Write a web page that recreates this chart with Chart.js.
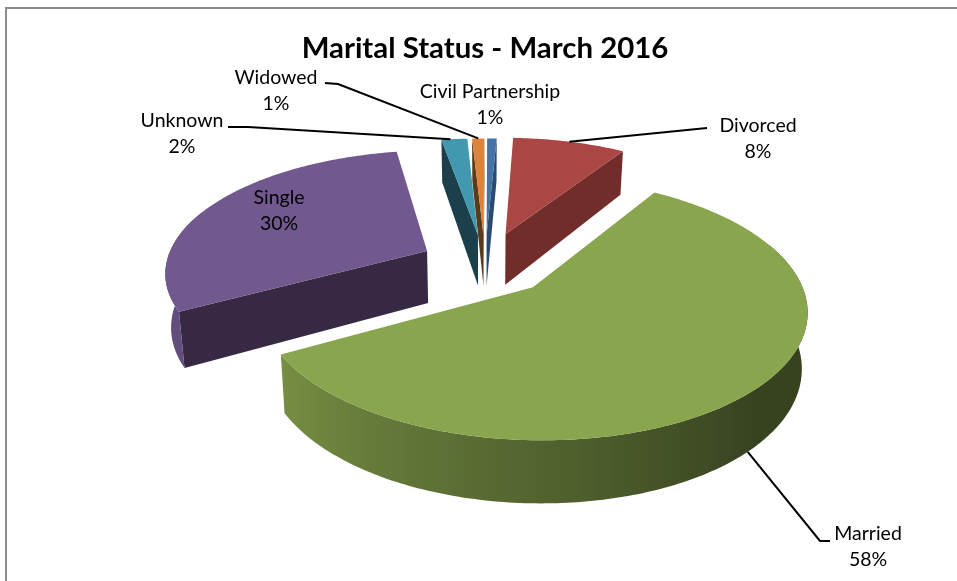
<!DOCTYPE html>
<html>
<head>
<meta charset="utf-8">
<title>Marital Status - March 2016</title>
<style>
  html, body { margin: 0; padding: 0; background: #fff; }
  canvas { display: block; }
</style>
<script src="https://cdn.jsdelivr.net/npm/chart.js@4/dist/chart.umd.min.js"></script>
</head>
<body>
<canvas id="pie" width="957" height="581"></canvas>
<script>
const categories = ["Civil Partnership", "Divorced", "Married", "Single", "Unknown", "Widowed"];
// the labels show them rounded
const shares = [0.7, 8.3, 57.9, 30.3, 1.9, 0.9];
const topColors = ["#4572A7", "#AA4643", "#89A54E", "#71588F", "#4198AF", "#DB843D"];
const wallColors = ["#2A4A72", "#722D2B", "#364219", "#372944", "#1B3F4B", "#5B3A1A"];
const explodeBy = [0.25, 0.27, 0.26, 0.25, 0.25, 0.25];

// label layout: centre of the first text line, and optional leader line
const labelLayout = {
  "Civil Partnership": { x: 490, y: 92 },
  Divorced: { x: 758, y: 126, leader: [[707, 128]], at: 0.5, z: 0 },
  Married: { x: 868, y: 534, leader: [[830, 541], [820, 541]], at: 0.495, z: 1 },
  Single: { x: 279, y: 198 },
  Unknown: { x: 182, y: 121, leader: [[228, 127], [248, 127]], at: 0.35, z: 0 },
  Widowed: { x: 276, y: 78, leader: [[325, 83], [338, 84]], at: 0.5, z: 0 },
};

const stretchX = 1.38;  // screen width of the disc against the library radius
const squashY = 0.635;  // screen height of the disc against the library radius
const perspective = 0.16;
const depth = 53;

function project(arc, u, v, z) {
  const w = 1 - perspective * v;
  const R = arc.outerRadius;
  const shrink = 1 - 0.018 * z;
  return {
    x: arc.x + (stretchX * R * u * shrink) / w,
    y: arc.y + (squashY * R * v) / w + z * depth * (1 + 0.16 * v),
  };
}

function rimPoint(arc, index, angle, z) {
  const mid = (arc.startAngle + arc.endAngle) / 2;
  const u = Math.cos(angle) + explodeBy[index] * Math.cos(mid);
  const v = Math.sin(angle) + explodeBy[index] * Math.sin(mid);
  return project(arc, u, v, z);
}

function apexPoint(arc, index, z) {
  const mid = (arc.startAngle + arc.endAngle) / 2;
  return project(arc, explodeBy[index] * Math.cos(mid), explodeBy[index] * Math.sin(mid), z);
}

function shadeColor(hex, f) {
  const n = parseInt(hex.slice(1), 16);
  const c = [(n >> 16) & 255, (n >> 8) & 255, n & 255].map((p) => Math.round(p * f));
  return `rgb(${c[0]},${c[1]},${c[2]})`;
}

// rim gets lighter towards the left, flat dark on the right
function rimShade(angle) {
  let deg = ((angle * 180) / Math.PI + 90) % 360;
  if (deg < 0) deg += 360;
  if (deg <= 135) return 0.4;
  if (deg >= 241) return 0.87;
  return 0.4 + ((deg - 135) / 106) * 0.47;
}

function fillPoly(ctx, pts, color) {
  ctx.beginPath();
  pts.forEach((p, i) => (i ? ctx.lineTo(p.x, p.y) : ctx.moveTo(p.x, p.y)));
  ctx.closePath();
  ctx.fillStyle = color;
  ctx.fill();
}

function drawWall(ctx, arc, index, angle) {
  fillPoly(
    ctx,
    [apexPoint(arc, index, 0), rimPoint(arc, index, angle, 0), rimPoint(arc, index, angle, 1), apexPoint(arc, index, 1)],
    wallColors[index]
  );
}

function drawRim(ctx, arc, index) {
  const steps = Math.max(4, Math.ceil((arc.endAngle - arc.startAngle) * 60));
  const da = (arc.endAngle - arc.startAngle) / steps;
  const front = [];
  for (let i = 0; i <= steps; i++) {
    const a = arc.startAngle + i * da;
    // a bit past the widest point, the top face covers the rest
    if (Math.sin(a) > -0.35) front.push(a);
  }
  if (front.length < 2) return;

  const upper = front.map((a) => rimPoint(arc, index, a, 0));
  const lower = front.map((a) => rimPoint(arc, index, a, 1)).reverse();
  const xs = upper.map((p) => p.x);
  const x0 = Math.min(...xs);
  const x1 = Math.max(...xs);
  const gradient = ctx.createLinearGradient(x0, 0, x1, 0);
  front.forEach((a, i) => {
    const stop = Math.min(1, Math.max(0, (upper[i].x - x0) / (x1 - x0 || 1)));
    gradient.addColorStop(stop, shadeColor(topColors[index], rimShade(a)));
  });
  fillPoly(ctx, upper.concat(lower), gradient);
}

function drawSlice(ctx, arc, index) {
  const steps = Math.max(4, Math.ceil((arc.endAngle - arc.startAngle) * 60));
  const da = (arc.endAngle - arc.startAngle) / steps;

  // only the side faces turned towards the viewer
  if (Math.sin(arc.startAngle - Math.PI / 2) > 0) drawWall(ctx, arc, index, arc.startAngle);
  if (Math.sin(arc.endAngle + Math.PI / 2) > 0) drawWall(ctx, arc, index, arc.endAngle);
  drawRim(ctx, arc, index);

  const face = [apexPoint(arc, index, 0)];
  for (let i = 0; i <= steps; i++) face.push(rimPoint(arc, index, arc.startAngle + i * da, 0));
  fillPoly(ctx, face, topColors[index]);
}

const framePlugin = {
  id: "frame",
  beforeDraw: (chart) => {
    const ctx = chart.ctx;
    ctx.save();
    ctx.fillStyle = "#8C8C8C";
    ctx.fillRect(5, 7, chart.width - 5, 2);
    ctx.fillRect(5, 7, 2, chart.height - 7);
    ctx.restore();
  },
};

const tiltedPiePlugin = {
  id: "tiltedPie",
  // the library works out each arc, this only draws them tilted and extruded
  beforeDatasetsDraw: (chart) => {
    const ctx = chart.ctx;
    const arcs = chart.getDatasetMeta(0).data;
    const farFirst = arcs
      .map((arc, i) => ({ arc, i, near: Math.sin((arc.startAngle + arc.endAngle) / 2) }))
      .sort((a, b) => a.near - b.near);
    ctx.save();
    farFirst.forEach(({ arc, i }) => drawSlice(ctx, arc, i));
    ctx.restore();

    ctx.save();
    ctx.strokeStyle = "#000";
    ctx.lineWidth = 2;
    ctx.fillStyle = "#000";
    ctx.font = "19.5px Lato";
    ctx.textAlign = "center";
    ctx.textBaseline = "middle";
    categories.forEach((name, i) => {
      const layout = labelLayout[name];
      if (layout.leader) {
        const arc = arcs[i];
        const end = rimPoint(arc, i, arc.startAngle + layout.at * (arc.endAngle - arc.startAngle), layout.z);
        ctx.beginPath();
        layout.leader.forEach((p, j) => (j ? ctx.lineTo(p[0], p[1]) : ctx.moveTo(p[0], p[1])));
        ctx.lineTo(end.x, end.y);
        ctx.stroke();
      }
      ctx.fillText(name, layout.x, layout.y);
      ctx.fillText(Math.round(shares[i]) + "%", layout.x, layout.y + 26);
    });
    ctx.restore();
    return false;
  },
};

new Chart(document.getElementById("pie"), {
  type: "pie",
  data: {
    labels: categories,
    datasets: [{ data: shares, backgroundColor: topColors, borderWidth: 0 }],
  },
  options: {
    responsive: false,
    animation: false,
    rotation: 0.2,
    layout: { padding: { left: 13, right: 0, top: 0, bottom: 128 } },
    plugins: {
      legend: { display: false },
      tooltip: { enabled: false },
      title: {
        display: true,
        text: "Marital Status - March 2016",
        color: "#000",
        font: { family: "Lato", size: 29.4, weight: "bold", lineHeight: 1.2 },
        padding: { top: 31, bottom: 8 },
      },
    },
  },
  plugins: [framePlugin, tiltedPiePlugin],
});
</script>
</body>
</html>
